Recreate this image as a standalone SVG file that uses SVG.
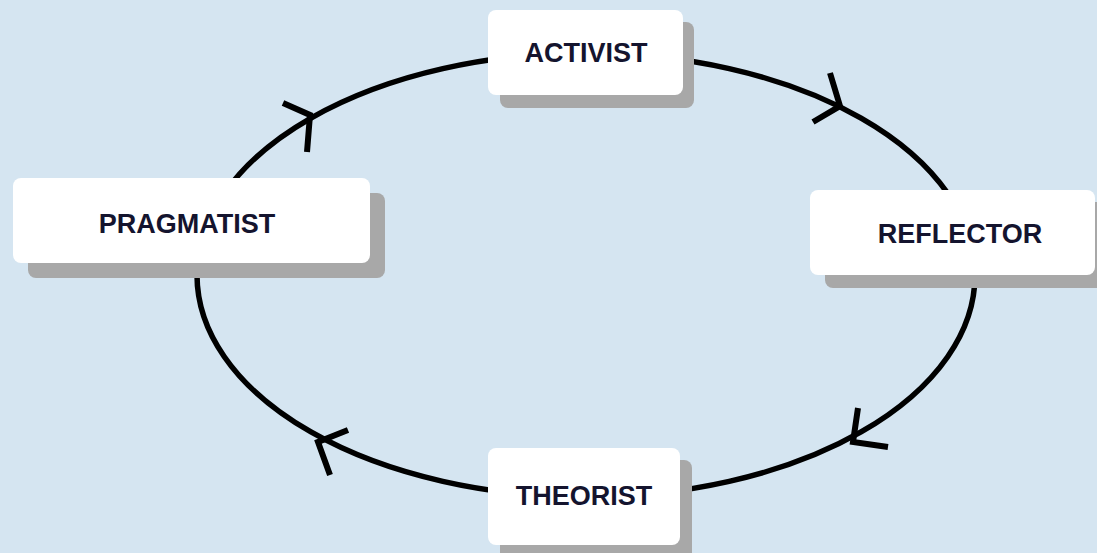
<svg xmlns="http://www.w3.org/2000/svg" width="1097" height="553" viewBox="0 0 1097 553">
<style>
.bg{fill:#d5e5f1}
.cycle{fill:none;stroke:#000;stroke-width:5.5}
.head{fill:none;stroke:#000;stroke-width:6;stroke-linecap:butt;stroke-linejoin:miter}
.shadow{fill:#a8a8a8}
.box{fill:#fff}
.label{font-family:"Liberation Sans",Arial,sans-serif;font-weight:bold;font-size:27px;fill:#14142e;text-anchor:middle}
</style>
<rect class="bg" x="0" y="0" width="1097" height="553"/>
<g id="connectors">
<ellipse class="cycle" cx="586" cy="275" rx="389" ry="222"/>
<polyline class="head" points="830,73 840,106 813,122"/>
<polyline class="head" points="858,408 853,442 888,447"/>
<polyline class="head" points="348,430 318,442 330,475"/>
<polyline class="head" points="283,103 310,115 307,152"/>
</g>
<g id="activist">
<rect class="shadow" x="500" y="22" width="194" height="86" rx="8"/>
<rect class="box" x="488" y="10" width="195" height="85" rx="8"/>
<text class="label" x="586" y="62">ACTIVIST</text>
</g>
<g id="reflector">
<rect class="shadow" x="825" y="202" width="285" height="86" rx="8"/>
<rect class="box" x="810" y="190" width="285" height="85" rx="8"/>
<text class="label" x="960" y="243">REFLECTOR</text>
</g>
<g id="theorist">
<rect class="shadow" x="500" y="460" width="192" height="100" rx="8"/>
<rect class="box" x="488" y="448" width="192" height="97" rx="8"/>
<text class="label" x="584" y="505">THEORIST</text>
</g>
<g id="pragmatist">
<rect class="shadow" x="28" y="193" width="357" height="85" rx="8"/>
<rect class="box" x="13" y="178" width="357" height="85" rx="8"/>
<text class="label" x="187" y="233">PRAGMATIST</text>
</g>
</svg>
